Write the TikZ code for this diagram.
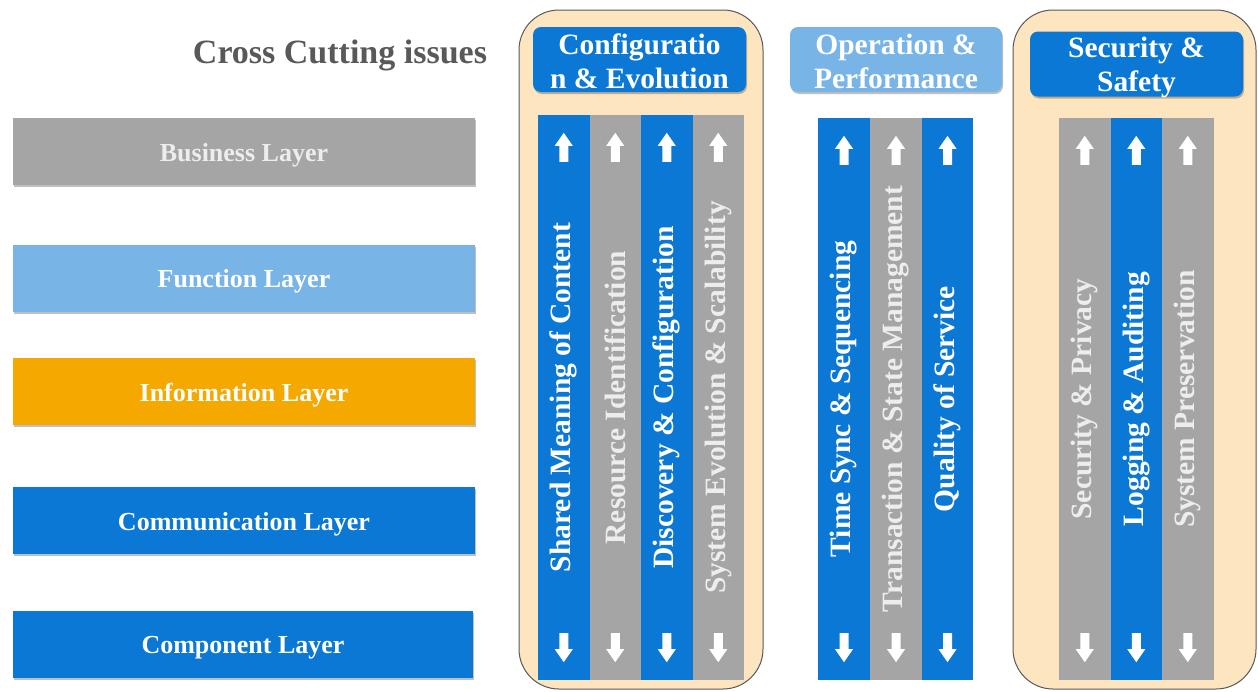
\documentclass[tikz,border=0pt]{standalone}
\usepackage{fontspec}
\setmainfont{Liberation Serif}
\usetikzlibrary{shadows}
\definecolor{cblue}{HTML}{0A78D4}
\definecolor{cgray}{HTML}{A5A5A5}
\definecolor{clight}{HTML}{78B4E6}
\definecolor{corange}{HTML}{F5A800}
\definecolor{cpeach}{HTML}{FDE5C0}
\definecolor{ctitle}{HTML}{595959}
\definecolor{cpale}{HTML}{EDEDED}
\begin{document}
\begin{tikzpicture}[x=1pt,y=-1pt,
  layerbox/.style={minimum width=462pt, minimum height=67pt, inner sep=0pt,
    drop shadow={shadow xshift=1pt, shadow yshift=-2pt, opacity=0.25, fill=black}},
  layertext/.style={font=\fontsize{26}{30}\selectfont\bfseries, text=white, inner sep=0pt},
  groupbox/.style={draw=black!65, line width=1pt, fill=cpeach, rounded corners=40pt},
  headbox/.style={minimum width=213pt, minimum height=65pt, inner sep=0pt, rounded corners=8pt,
    drop shadow={shadow xshift=1pt, shadow yshift=-2pt, opacity=0.25, fill=black}},
  headtext/.style={align=center, text=white, font=\fontsize{29.5}{34}\selectfont\bfseries, inner sep=0pt},
  colbox/.style={minimum width=51.5pt, minimum height=565pt, inner sep=0pt},
  coltext/.style={rotate=90, font=\fontsize{29.5}{32}\selectfont\bfseries, inner sep=0pt},
  uparr/.pic={\fill[white] (-4.5,29)--(-4.5,13)--(-9,13)--(0,0)--(9,13)--(4.5,13)--(4.5,29)--cycle;},
  dnarr/.pic={\fill[white] (-4.5,-29)--(-4.5,-13)--(-9,-13)--(0,0)--(9,-13)--(4.5,-13)--(4.5,-29)--cycle;}
]
\useasboundingbox (0,0) rectangle (1258,691);

% title
\node[text=ctitle, font=\fontsize{34}{38}\selectfont\bfseries] (title) at (340,55) {Cross Cutting issues};

% layers
\node[layerbox, fill=cgray] (bus) at (244,151.5) {};
\node[layerbox, fill=clight] (fun) at (244,278) {};
\node[layerbox, fill=corange] (inf) at (244,391.5) {};
\node[layerbox, fill=cblue] (com) at (244,520.5) {};
\node[layerbox, fill=cblue, minimum width=460pt] (cmp) at (243,644.5) {};
\node[layertext, text=cpale] (busT) at ([yshift=-3.5pt]bus.center) {Business Layer};
\node[layertext] (funT) at ([yshift=-3.5pt]fun.center) {Function Layer};
\node[layertext] (infT) at ([yshift=-3.5pt]inf.center) {Information Layer};
\node[layertext] (comT) at ([yshift=-3.5pt]com.center) {Communication Layer};
\node[layertext] (cmpT) at ([yshift=-3.5pt]cmp.center) {Component Layer};

% group backgrounds
\draw[groupbox] (519,10) rectangle (763,689);
\draw[groupbox] (1013,10) rectangle (1256,689);

% headers
\node[headbox, fill=cblue] (h1) at (639.5,59.5) {};
\node[headbox, fill=clight, minimum width=212pt] (h2) at (896,59.5) {};
\node[headbox, fill=cblue] (h3) at (1136.5,64) {};
\node[headtext] (ht1) at ([yshift=-2pt]h1.center) {Configuratio\\n \& Evolution};
\node[headtext] (ht2) at ([yshift=-2pt]h2.center) {Operation \&\\Performance};
\node[headtext] (ht3) at ([yshift=-3pt]h3.center) {Security \&\\Safety};

% group 1 columns
\node[colbox, fill=cblue] (c1) at (563.75,397.5) {};
\node[colbox, fill=cgray] (c2) at (615.25,397.5) {};
\node[colbox, fill=cblue] (c3) at (666.75,397.5) {};
\node[colbox, fill=cgray] (c4) at (718.25,397.5) {};
\node[coltext, text=white] (t1) at (c1.center) {Shared Meaning of Content};
\node[coltext, text=cpale] (t2) at (c2.center) {Resource Identification};
\node[coltext, text=white] (t3) at (c3.center) {Discovery \& Configuration};
\node[coltext, text=cpale] (t4) at (c4.center) {System Evolution \& Scalability};

% group 2 columns
\node[colbox, fill=cblue, minimum height=562pt] (c5) at (844,399) {};
\node[colbox, fill=cgray, minimum height=562pt] (c6) at (896,399) {};
\node[colbox, fill=cblue, minimum height=562pt] (c7) at (947.5,399) {};
\node[coltext, text=white] (t5) at (c5.center) {Time Sync \& Sequencing};
\node[coltext, text=cpale] (t6) at (c6.center) {Transaction \& State Management};
\node[coltext, text=white] (t7) at (c7.center) {Quality of Service};

% group 3 columns
\node[colbox, fill=cgray, minimum height=562pt] (c8) at (1084.75,399) {};
\node[colbox, fill=cblue, minimum height=562pt] (c9) at (1136.25,399) {};
\node[colbox, fill=cgray, minimum height=562pt] (c10) at (1187.75,399) {};
\node[coltext, text=cpale] (t8) at (c8.center) {Security \& Privacy};
\node[coltext, text=white] (t9) at (c9.center) {Logging \& Auditing};
\node[coltext, text=cpale] (t10) at (c10.center) {System Preservation};

% arrows
\foreach \c in {c1,c2,c3,c4,c5,c6,c7,c8,c9,c10}{
  \pic at ([yshift=-18pt]\c.north) {uparr};
  \pic at ([yshift=18pt]\c.south) {dnarr};
}
\end{tikzpicture}
\end{document}
